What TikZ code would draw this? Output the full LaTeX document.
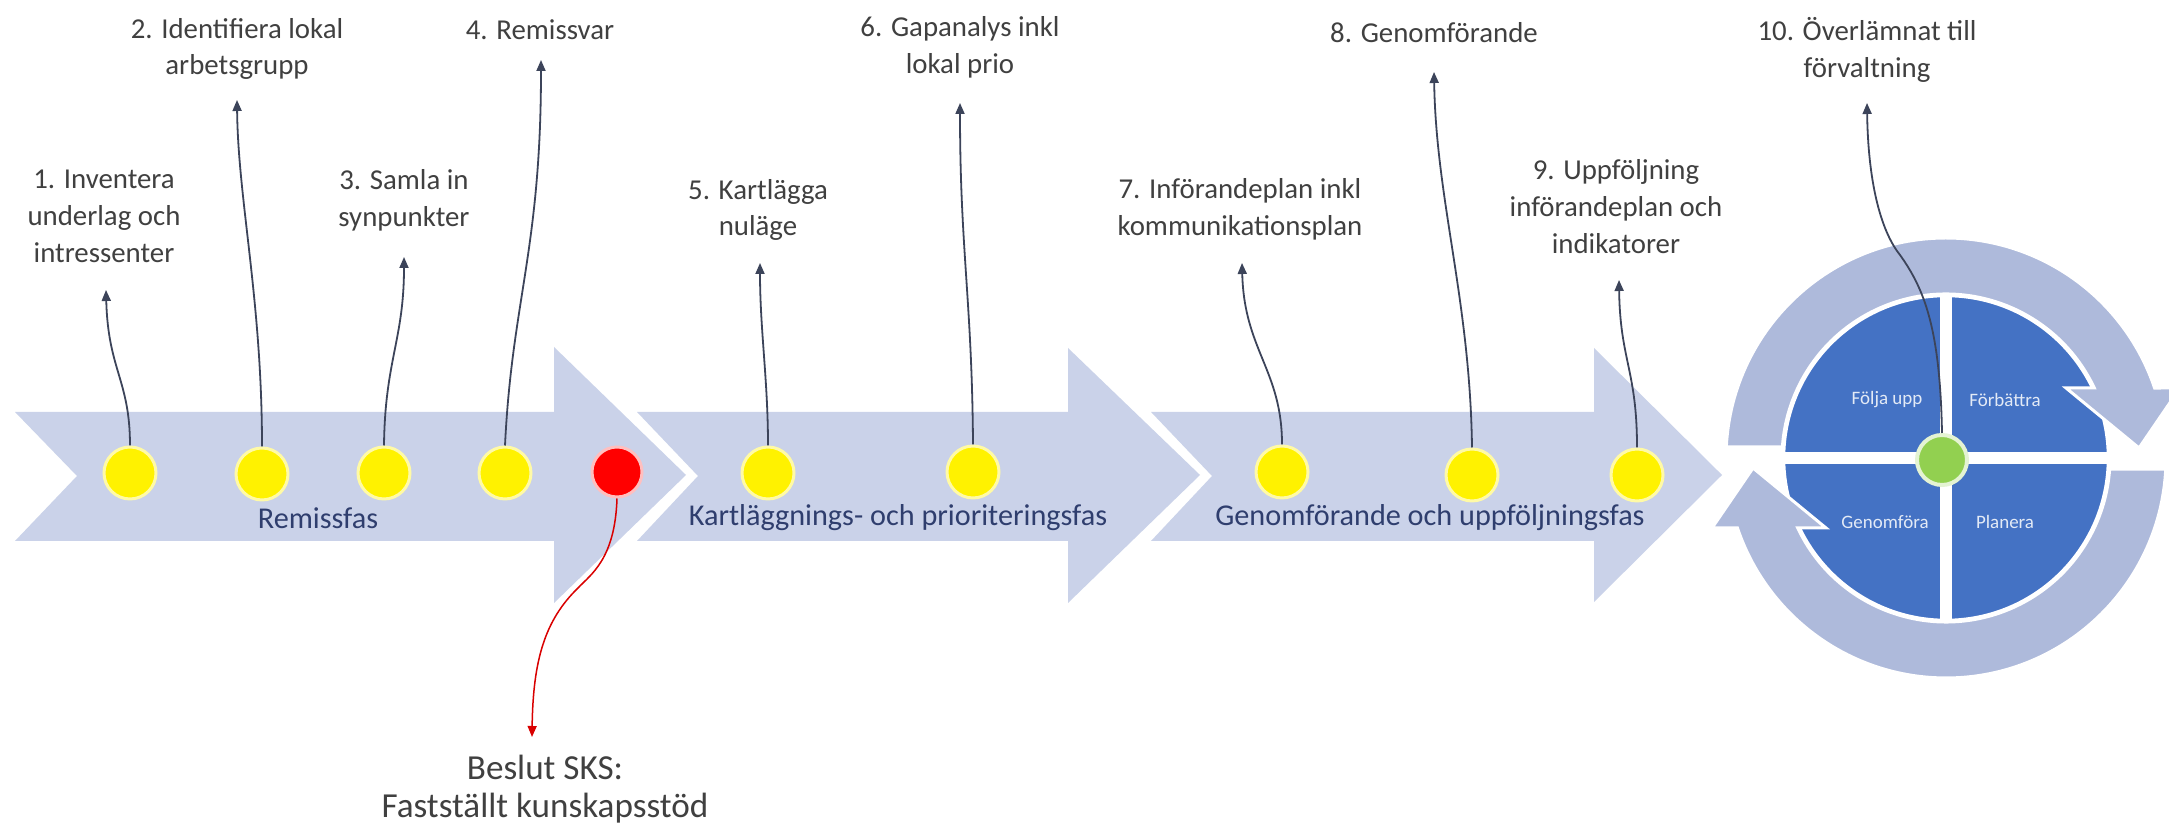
\documentclass[tikz,border=0pt]{standalone}
\usepackage{fontspec}
\setmainfont{Carlito}
\usetikzlibrary{arrows.meta}
\definecolor{chev}{RGB}{202,210,233}
\definecolor{ringc}{RGB}{174,186,219}
\definecolor{pdcablue}{RGB}{68,114,196}
\definecolor{phasetext}{RGB}{47,62,110}
\definecolor{labeltext}{RGB}{64,64,64}
\definecolor{connc}{RGB}{60,68,90}
\definecolor{dotgreen}{RGB}{146,208,80}
\begin{document}
\begin{tikzpicture}[x=0.1mm,y=-0.1mm,
  chevron/.style={fill=chev, draw=none},
  ydot/.style={circle, fill=yellow, draw=yellow!35!white, line width=0.3mm, minimum size=5.2mm, inner sep=0pt},
  rdot/.style={circle, fill=red, draw=red!25!white, line width=0.3mm, minimum size=5.0mm, inner sep=0pt},
  toplabel/.style={align=center, text=labeltext, font=\fontsize{8.2}{10.5}\selectfont, inner sep=0pt},
  phase/.style={text=phasetext, font=\fontsize{8.6}{10}\selectfont, inner sep=0pt},
  quad/.style={text=white!85!pdcablue, font=\fontsize{5.4}{6}\selectfont, inner sep=0pt},
  conn/.style={draw=connc, line width=0.18mm, -{Triangle[length=1.1mm,width=0.9mm]}},
  rconn/.style={draw=red!85!black, line width=0.15mm, -{Triangle[length=1.1mm,width=0.9mm]}},
  ringarrow/.pic={
    \fill[ringc, draw=white, line width=0.3mm]
      (177.13:22mm) arc[start angle=177.13, end angle=18.55, radius=22mm]
      -- (23.4mm,7mm) -- (19.3mm,1.0mm) -- (12.0mm,7.0mm)
      -- (25.27:16.4mm) arc[start angle=25.27, end angle=176.15, radius=16.4mm] -- cycle;
  },
]
\useasboundingbox (0,0) rectangle (2169,829);
\fill[white] (0,0) rectangle (2169,829);

% chevrons
\fill[chevron] (15,412) -- (554,412) -- (554,347) -- (686,475) -- (554,603) -- (554,541) -- (15,541) -- (77,476) -- cycle;
\fill[chevron] (637,412) -- (1068,412) -- (1068,348) -- (1200,475) -- (1068,603) -- (1068,541) -- (637,541) -- (698,476) -- cycle;
\fill[chevron] (1151,412) -- (1594,412) -- (1594,348) -- (1722,475) -- (1594,602) -- (1594,541) -- (1151,541) -- (1212,476) -- cycle;

% phase labels
\node[phase] (p1) at (318,518) {Remissfas};
\node[phase] (p2) at (898,518) {Kartläggnings- och prioriteringsfas};
\node[phase] (p3) at (1430,518) {Genomförande och uppföljningsfas};

% dots
\node[ydot] (d1) at (130,473) {};
\node[ydot] (d2) at (262,474) {};
\node[ydot] (d3) at (384,473) {};
\node[ydot] (d4) at (505,473) {};
\node[rdot] (dr) at (617,472) {};
\node[ydot] (d5) at (768,473) {};
\node[ydot] (d6) at (973,472) {};
\node[ydot] (d7) at (1282,472) {};
\node[ydot] (d8) at (1472,475) {};
\node[ydot] (d9) at (1637,475) {};

% cycle
\begin{scope}[shift={(1946,458)}]
  \fill[pdcablue] (0,0) circle[radius=16.2mm];
  \draw[white, line width=0.25mm] (0,0) circle[radius=16.2mm];
  \fill[white] (-16.6mm,-0.6mm) rectangle (16.6mm,0.6mm);
  \fill[white] (-0.6mm,-16.6mm) rectangle (0.6mm,16.6mm);
  \pic at (0,0) {ringarrow};
  \pic[rotate=180] at (0,0) {ringarrow};
  \node[quad] (q1) at (-59,-58) {Följa upp};
  \node[quad] (q2) at (59,-58) {Förbättra};
  \node[quad] (q3) at (-61,64) {Genomföra};
  \node[quad] (q4) at (59,64) {Planera};
  \node[circle, fill=dotgreen, draw=white!75!dotgreen, line width=0.4mm, minimum size=5mm, inner sep=0pt] (g) at (-4,2) {};
\end{scope}

% labels
\node[toplabel] (l1) at (104,216) {1. Inventera\\underlag och\\intressenter};
\node[toplabel] (l2) at (237,49) {2. Identifiera lokal\\arbetsgrupp};
\node[toplabel] (l3) at (404,200) {3. Samla in\\synpunkter};
\node[toplabel] (l4) at (540,30) {4. Remissvar};
\node[toplabel] (l5) at (758,210) {5. Kartlägga\\nuläge};
\node[toplabel] (l6) at (960,47) {6. Gapanalys inkl\\lokal prio};
\node[toplabel] (l7) at (1240,209) {7. Införandeplan inkl\\kommunikationsplan};
\node[toplabel] (l8) at (1434,33) {8. Genomförande};
\node[toplabel] (l9) at (1616,207) {9. Uppföljning\\införandeplan och\\indikatorer};
\node[toplabel] (l10) at (1867,50) {10. Överlämnat till\\förvaltning};
\node[align=center, text=labeltext, font=\fontsize{10}{10.8}\selectfont, inner sep=0pt] (beslut) at (545,789) {Beslut SKS:\\Fastställt kunskapsstöd};

% arrow tips
\coordinate (t1) at (106,290);
\coordinate (t2) at (237,100);
\coordinate (t3) at (404,257);
\coordinate (t4) at (541,60);
\coordinate (t5) at (760,263);
\coordinate (t6) at (960,103);
\coordinate (t7) at (1242,263);
\coordinate (t8) at (1434,72);
\coordinate (t9) at (1619,280);
\coordinate (t10) at (1867,103);
\coordinate (tr) at (532,737);

% connectors
\draw[conn] (d1.north) .. controls (130,380) and (108,370) .. (t1);
\draw[conn] (d2.north) .. controls (262,300) and (238,200) .. (t2);
\draw[conn] (d3.north) .. controls (385,360) and (404,340) .. (t3);
\draw[conn] (d4.north) .. controls (512,300) and (541,250) .. (t4);
\draw[conn] (d5.north) .. controls (768,380) and (760,330) .. (t5);
\draw[conn] (d6.north) .. controls (972,300) and (960,250) .. (t6);
\draw[conn] (d7.north) .. controls (1282,370) and (1244,350) .. (t7);
\draw[conn] (d8.north) .. controls (1470,300) and (1436,200) .. (t8);
\draw[conn] (d9.north) .. controls (1637,370) and (1620,360) .. (t9);
\draw[conn] (g.north) .. controls (1940,330) and (1925,290) .. (1900,255) .. controls (1880,230) and (1868,180) .. (t10);
\draw[rconn] (dr.south) .. controls (615,560) and (590,575) .. (578,588) .. controls (545,620) and (533,660) .. (tr);
\end{tikzpicture}
\end{document}
